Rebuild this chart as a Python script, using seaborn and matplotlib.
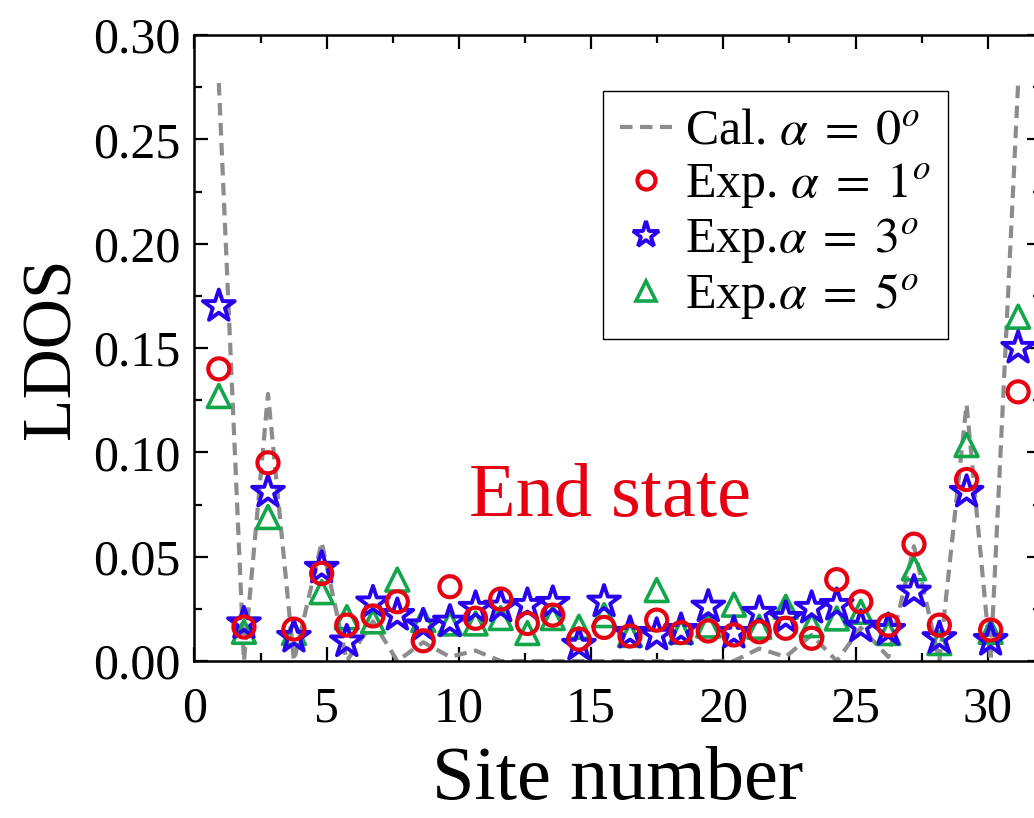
import numpy as np
import pandas as pd
import matplotlib
matplotlib.use('Agg')
import matplotlib.pyplot as plt
import seaborn as sns
from matplotlib.ticker import MultipleLocator, FormatStrFormatter
from matplotlib.lines import Line2D

# Site positions as drawn (x axis)
site_x = [0.92, 1.87, 2.78, 3.76, 4.81, 5.76, 6.75, 7.67, 8.65, 9.66, 10.63,
          11.58, 12.59, 13.55, 14.54, 15.49, 16.47, 17.48, 18.40, 19.43, 20.40,
          21.36, 22.36, 23.34, 24.29, 25.20, 26.24, 27.21, 28.17, 29.20, 30.11, 31.15]

# Calculated LDOS, alpha = 0
calc_0 = [0.277, 0.0, 0.128, 0.0, 0.057, 0.0, 0.019, 0.0, 0.009, 0.002, 0.005,
          0.0, 0.0, 0.0, 0.0, 0.0, 0.0, 0.0, 0.0, 0.0, 0.0,
          0.006, 0.002, 0.0125, 0.0, 0.016, 0.002, 0.055, 0.0, 0.123, 0.0, 0.277]

# Measured LDOS
exp_1 = [0.140, 0.0163, 0.095, 0.0153, 0.042, 0.0172, 0.0216, 0.0284, 0.0097, 0.0356, 0.0205,
         0.0297, 0.018, 0.022, 0.0105, 0.0161, 0.012, 0.0196, 0.0136, 0.0144, 0.0125,
         0.014, 0.0157, 0.0109, 0.039, 0.0284, 0.0172, 0.056, 0.0172, 0.087, 0.0149, 0.129]
exp_3 = [0.170, 0.018, 0.081, 0.0115, 0.0446, 0.0093, 0.028, 0.022, 0.017, 0.0188, 0.0254,
         0.026, 0.0268, 0.0278, 0.0077, 0.0284, 0.0134, 0.0125, 0.0148, 0.026, 0.0134,
         0.023, 0.0206, 0.0254, 0.0268, 0.0164, 0.0148, 0.0332, 0.0109, 0.081, 0.010, 0.150]
exp_5 = [0.127, 0.014, 0.069, 0.0134, 0.033, 0.021, 0.019, 0.039, 0.0196, 0.018, 0.018,
         0.0206, 0.0134, 0.0206, 0.0164, 0.022, 0.0125, 0.034, 0.014, 0.017, 0.027,
         0.0164, 0.026, 0.0172, 0.0204, 0.0236, 0.0134, 0.0444, 0.0086, 0.1035, 0.014, 0.165]

labels = ['Cal. $\\alpha\\;=\\;0^o$', 'Exp. $\\alpha\\;=\\;1^o$',
          'Exp.$\\alpha\\;=\\;3^o$', 'Exp.$\\alpha\\;=\\;5^o$']

sns.set_style('ticks')
plt.rcParams['font.family'] = ['Liberation Serif', 'DejaVu Serif']
plt.rcParams['mathtext.fontset'] = 'stix'
plt.rcParams['text.color'] = 'black'
plt.rcParams['axes.labelcolor'] = 'black'

df = pd.DataFrame({'x': site_x, 'calc': calc_0, 'e1': exp_1, 'e3': exp_3, 'e5': exp_5})

gray = '#8c8c8c'
red = '#e60012'
blue = '#2a00f0'
green = '#12a64a'
dash = (0, (3, 1.8))

fig = plt.figure(figsize=(10.34, 8.18), dpi=100)
ax = fig.add_axes([0.1881, 0.1919, 0.8183, 0.7653])

sns.lineplot(data=df, x='x', y='calc', ax=ax, color=gray, lw=3.0,
             linestyle=dash, zorder=2)
sns.scatterplot(data=df, x='x', y='e5', ax=ax, marker='^', s=270,
                facecolor='none', edgecolor=green, linewidth=2.6, zorder=3)
sns.scatterplot(data=df, x='x', y='e3', ax=ax, marker='*', s=580,
                facecolor='none', edgecolor=blue, linewidth=2.8, zorder=4)
sns.scatterplot(data=df, x='x', y='e1', ax=ax, marker='o', s=230,
                facecolor='none', edgecolor=red, linewidth=3.0, zorder=5)

ax.set_xlim(0, 32)
ax.set_ylim(0, 0.30)
ax.xaxis.set_major_locator(MultipleLocator(5))
ax.xaxis.set_minor_locator(MultipleLocator(2.5))
ax.yaxis.set_major_locator(MultipleLocator(0.05))
ax.yaxis.set_minor_locator(MultipleLocator(0.025))
ax.yaxis.set_major_formatter(FormatStrFormatter('%.2f'))
ax.tick_params(which='both', direction='in', top=True, right=True, width=1.6,
               labelsize=36, colors='black')
ax.tick_params(which='major', length=10)
ax.tick_params(axis='y', which='major', pad=10)
ax.tick_params(axis='x', which='major', pad=18)
ax.tick_params(which='minor', length=6)
for sp in ax.spines.values():
    sp.set_linewidth(1.8)
    sp.set_color('black')

ax.set_xlabel('Site number', fontsize=55, labelpad=10, color='black')
ax.set_ylabel('LDOS', fontsize=50, labelpad=6, color='black')

ax.text(15.7, 0.0786, 'End state', color=red, fontsize=55, ha='center', va='center')

handles = [
    Line2D([], [], color=gray, lw=3.0, linestyle=dash),
    Line2D([], [], color=red, marker='o', ls='none', markersize=13,
           markerfacecolor='none', markeredgewidth=3.0),
    Line2D([], [], color=blue, marker='*', ls='none', markersize=20,
           markerfacecolor='none', markeredgewidth=2.8),
    Line2D([], [], color=green, marker='^', ls='none', markersize=14,
           markerfacecolor='none', markeredgewidth=2.6),
]
leg = ax.legend(handles, labels, loc='upper right', bbox_to_anchor=(0.891, 0.91),
                fontsize=36, frameon=True, fancybox=False, edgecolor='black',
                framealpha=1, handlelength=1.04, handletextpad=0.25,
                labelspacing=0.12, borderpad=0.35, borderaxespad=0)
leg.get_frame().set_linewidth(1.0)
for t in leg.get_texts():
    t.set_color('black')

fig.savefig('out.png', dpi=100)
